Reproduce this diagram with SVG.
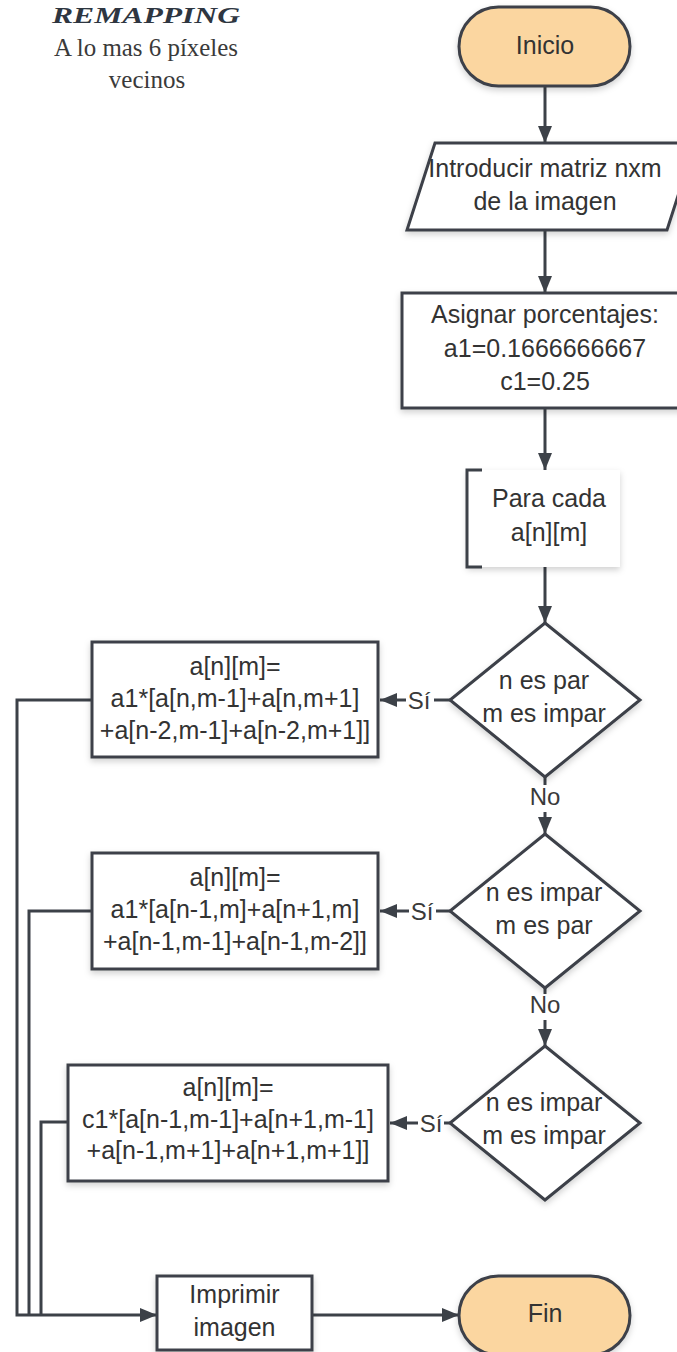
<svg xmlns="http://www.w3.org/2000/svg" width="677" height="1352" viewBox="0 0 677 1352">
<style>
.t{font-family:"Liberation Sans",Arial,sans-serif;font-size:25px;fill:#333;text-anchor:middle}
.shape{fill:#fff;stroke:#3c4148;stroke-width:3}
.term{fill:#fbd6a0;stroke:#3c4148;stroke-width:3}
.ln{fill:none;stroke:#3c4148;stroke-width:3}
.lbl{font-family:"Liberation Sans",Arial,sans-serif;font-size:24px;fill:#3a3a3a;text-anchor:middle}
.ttl{font-family:"Liberation Serif","Times New Roman",serif;text-anchor:middle}
</style>
<defs>
<marker id="ah" markerUnits="userSpaceOnUse" markerWidth="18" markerHeight="14" refX="17" refY="7" orient="auto">
<path d="M0,0 L17,7 L0,14 z" fill="#3c4148"/>
</marker>
<filter id="sh" x="-10%" y="-10%" width="120%" height="130%">
<feDropShadow dx="0" dy="3" stdDeviation="3" flood-color="#000" flood-opacity="0.18"/>
</filter>
</defs>
<rect width="677" height="1352" fill="#fff"/>

<g id="title">
<text class="ttl" x="146" y="23" font-size="24" font-weight="bold" font-style="italic" fill="#2e3641" textLength="188" lengthAdjust="spacingAndGlyphs">REMAPPING</text>
<text class="ttl" x="146" y="56" font-size="25" fill="#3a3a3a" textLength="184" lengthAdjust="spacingAndGlyphs">A lo mas 6 píxeles</text>
<text class="ttl" x="147" y="88" font-size="25" fill="#3a3a3a">vecinos</text>
</g>

<g id="connectors">
<line class="ln" x1="545" y1="86" x2="545" y2="143" marker-end="url(#ah)"/>
<line class="ln" x1="545" y1="230" x2="545" y2="293" marker-end="url(#ah)"/>
<line class="ln" x1="545" y1="408" x2="545" y2="470" marker-end="url(#ah)"/>
<line class="ln" x1="545" y1="567" x2="545" y2="623" marker-end="url(#ah)"/>
<line class="ln" x1="450" y1="700" x2="434" y2="700"/>
<text class="lbl" x="419" y="709">Sí</text>
<line class="ln" x1="406" y1="700" x2="380" y2="700" marker-end="url(#ah)"/>
<line class="ln" x1="545" y1="777" x2="545" y2="785"/>
<text class="lbl" x="545" y="805">No</text>
<line class="ln" x1="545" y1="812" x2="545" y2="834" marker-end="url(#ah)"/>
<line class="ln" x1="450" y1="911" x2="436" y2="911"/>
<text class="lbl" x="422" y="920">Sí</text>
<line class="ln" x1="409" y1="911" x2="380" y2="911" marker-end="url(#ah)"/>
<line class="ln" x1="545" y1="988" x2="545" y2="994"/>
<text class="lbl" x="545" y="1013">No</text>
<line class="ln" x1="545" y1="1020" x2="545" y2="1046" marker-end="url(#ah)"/>
<line class="ln" x1="450" y1="1123" x2="444" y2="1123"/>
<text class="lbl" x="431" y="1132">Sí</text>
<line class="ln" x1="418" y1="1123" x2="390" y2="1123" marker-end="url(#ah)"/>
<polyline class="ln" points="92,700 17,700 17,1315 157,1315" marker-end="url(#ah)"/>
<polyline class="ln" points="92,911 29,911 29,1315"/>
<polyline class="ln" points="68,1122 41,1122 41,1315"/>
<line class="ln" x1="312" y1="1315" x2="459" y2="1315" marker-end="url(#ah)"/>
</g>

<g id="inicio">
<rect class="term" x="459" y="7" width="171" height="79" rx="39.5" filter="url(#sh)"/>
<text class="t" x="545" y="54">Inicio</text>
</g>

<g id="entrada">
<polygon class="shape" points="435,143 695,143 667,230 407,230" filter="url(#sh)"/>
<text class="t" x="545" y="177">Introducir matriz nxm</text>
<text class="t" x="545" y="210">de la imagen</text>
</g>

<g id="asignar">
<rect class="shape" x="402" y="293" width="286" height="115" filter="url(#sh)"/>
<text class="t" x="545" y="323">Asignar porcentajes:</text>
<text class="t" x="545" y="357">a1=0.1666666667</text>
<text class="t" x="545" y="390">c1=0.25</text>
</g>

<g id="paracada">
<rect x="467" y="470" width="153" height="97" fill="#fff" filter="url(#sh)"/>
<path class="ln" d="M482,470 L467,470 L467,567 L482,567"/>
<text class="t" x="549" y="507">Para cada</text>
<text class="t" x="549" y="541">a[n][m]</text>
</g>

<g id="decision1">
<polygon class="shape" points="545,623 640,700 545,777 450,700" filter="url(#sh)"/>
<text class="t" x="544" y="689">n es par</text>
<text class="t" x="544" y="722">m es impar</text>
</g>

<g id="caso1">
<rect class="shape" x="92" y="642" width="286" height="115" filter="url(#sh)"/>
<text class="t" x="235" y="675">a[n][m]=</text>
<text class="t" x="235" y="707">a1*[a[n,m-1]+a[n,m+1]</text>
<text class="t" x="235" y="739">+a[n-2,m-1]+a[n-2,m+1]]</text>
</g>

<g id="decision2">
<polygon class="shape" points="545,834 640,911 545,988 450,911" filter="url(#sh)"/>
<text class="t" x="544" y="901">n es impar</text>
<text class="t" x="544" y="934">m es par</text>
</g>

<g id="caso2">
<rect class="shape" x="92" y="853" width="286" height="116" filter="url(#sh)"/>
<text class="t" x="235" y="886">a[n][m]=</text>
<text class="t" x="235" y="918">a1*[a[n-1,m]+a[n+1,m]</text>
<text class="t" x="235" y="950">+a[n-1,m-1]+a[n-1,m-2]]</text>
</g>

<g id="decision3">
<polygon class="shape" points="545,1046 640,1123 545,1200 450,1123" filter="url(#sh)"/>
<text class="t" x="544" y="1111">n es impar</text>
<text class="t" x="544" y="1144">m es impar</text>
</g>

<g id="caso3">
<rect class="shape" x="68" y="1065" width="320" height="116" filter="url(#sh)"/>
<text class="t" x="228" y="1096">a[n][m]=</text>
<text class="t" x="228" y="1128">c1*[a[n-1,m-1]+a[n+1,m-1]</text>
<text class="t" x="228" y="1159">+a[n-1,m+1]+a[n+1,m+1]]</text>
</g>

<g id="imprimir">
<rect class="shape" x="157" y="1276" width="155" height="74" filter="url(#sh)"/>
<text class="t" x="234.5" y="1303">Imprimir</text>
<text class="t" x="234.5" y="1336">imagen</text>
</g>

<g id="fin">
<rect class="term" x="459" y="1276" width="171" height="79" rx="39.5" filter="url(#sh)"/>
<text class="t" x="545" y="1322">Fin</text>
</g>
</svg>
